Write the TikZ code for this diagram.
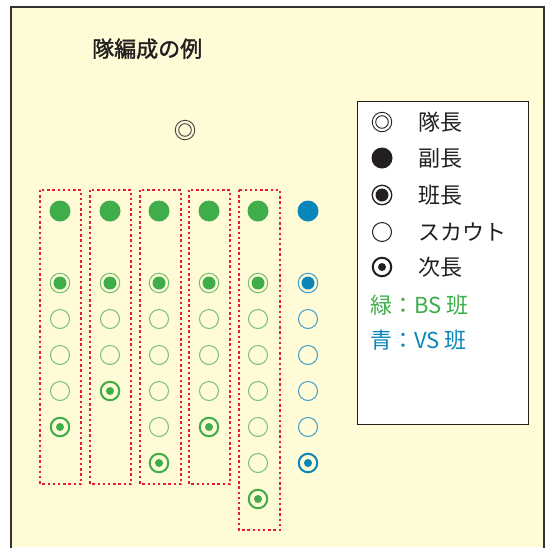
\documentclass[tikz,border=0pt]{standalone}
\usepackage{fontspec}
\newfontfamily\cjk{Noto Sans CJK JP}
\newfontfamily\cjktitle[FakeBold=1.6]{Noto Sans CJK JP}
\definecolor{bg}{HTML}{FFFBD7}
\definecolor{frame}{HTML}{333333}
\definecolor{gfill}{HTML}{3FAE4A}
\definecolor{gring}{HTML}{72C173}
\definecolor{bfill}{HTML}{0A86BA}
\definecolor{bring}{HTML}{3C9DCC}
\definecolor{dotred}{HTML}{E2202C}
\definecolor{ink}{HTML}{231F20}
\definecolor{chief}{HTML}{444444}
\begin{document}
\begin{tikzpicture}[x=1pt,y=-1pt,
  vice/.style={circle, fill=#1, minimum size=21pt, inner sep=0pt},
  scout/.style={circle, draw=#1, line width=1pt, minimum size=19pt, inner sep=0pt},
  pl/.style 2 args={circle, draw=#1, line width=1pt, minimum size=19.5pt, inner sep=0pt,
    path picture={\fill[#2] (path picture bounding box.center) circle (6.5pt);}},
  nx/.style={circle, draw=#1, line width=2pt, minimum size=18.5pt, inner sep=0pt,
    path picture={\fill[#1] (path picture bounding box.center) circle (4pt);}},
  chiefsym/.style={circle, draw=#1, line width=0.9pt, minimum size=19.5pt, inner sep=0pt,
    path picture={\draw[#1, line width=0.9pt] (path picture bounding box.center) circle (6.3pt);}},
  redbox/.style={draw=dotred, line width=2.4pt, dash pattern=on 2.4pt off 2.8pt},
  legtext/.style={anchor=base west, inner sep=0pt, font=\cjk\fontsize{22}{26}\selectfont, text=ink}
]
\useasboundingbox (0,0) rectangle (551,547);
\fill[white] (0,0) rectangle (551,547);
\fill[bg] (11,7) rectangle (544,547);
\draw[frame, line width=1.3pt] (11,548) -- (11,7) -- (544,7) -- (544,548);

% title
\node[anchor=base west, inner sep=0pt, font=\cjktitle\fontsize{22}{26}\selectfont, text=ink] (title) at (92,57) {隊編成の例};

% chief
\node[chiefsym=chief] (chief) at (185,130) {};

% red dotted boxes
\draw[redbox] (40,190) rectangle (81,484);
\draw[redbox] (90,190) rectangle (131,484);
\draw[redbox] (140,190) rectangle (181,484);
\draw[redbox] (189,190) rectangle (230,484);
\draw[redbox] (239,190) rectangle (280,530);

% green patrols
\foreach \i/\x/\n in {1/60/3,2/110/2,3/159/4,4/209/3,5/258/5}{
  \node[vice=gfill] (c\i v) at (\x,211) {};
  \node[pl={gring}{gfill}] (c\i p) at (\x,283) {};
  \foreach \k in {1,...,\n}{
    \node[scout=gring] (c\i s\k) at (\x,{283+36*\k}) {};
  }
  \node[nx=gfill] (c\i n) at (\x,{283+36*(\n+1)}) {};
}
% blue patrol
\node[vice=bfill] (c6v) at (308,211) {};
\node[pl={bring}{bfill}] (c6p) at (308,283) {};
\foreach \k in {1,...,4}{
  \node[scout=bring] (c6s\k) at (308,{283+36*\k}) {};
}
\node[nx=bfill] (c6n) at (308,463) {};

% legend
\node[draw=ink, fill=white, line width=1.2pt, minimum width=171pt, minimum height=323pt, anchor=north west, inner sep=0pt] (legend) at (357,101) {};
\node[chiefsym=ink] (l1) at (382,122) {};
\node[legtext] (t1) at (418,130) {隊長};
\node[vice=ink] (l2) at (382,158) {};
\node[legtext] (t2) at (418,166) {副長};
\node[pl={ink}{ink}, line width=1.3pt] (l3) at (382,195) {};
\node[legtext] (t3) at (418,203) {班長};
\node[scout=ink] (l4) at (382,232) {};
\node[legtext] (t4) at (418,240) {スカウト};
\node[nx=ink] (l5) at (382,267) {};
\node[legtext] (t5) at (418,275) {次長};
\node[legtext, text=gfill] (t6) at (370,313) {緑：BS 班};
\node[legtext, text=bfill] (t7) at (370,348) {青：VS 班};
\end{tikzpicture}
\end{document}
